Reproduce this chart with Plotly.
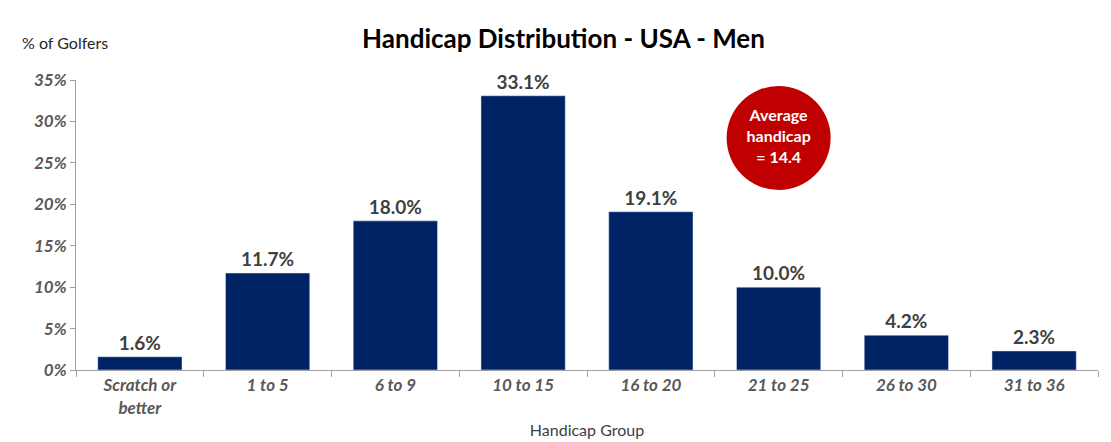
import plotly.graph_objects as go

categories = ["Scratch or<br>better", "1 to 5", "6 to 9", "10 to 15", "16 to 20", "21 to 25", "26 to 30", "31 to 36"]
values = [1.6, 11.7, 18.0, 33.1, 19.1, 10.0, 4.2, 2.3]
tick_vals = [0, 5, 10, 15, 20, 25, 30, 35]
tick_text = [f"{v}%" for v in tick_vals]
avg_label = "<b>Average<br>handicap<br>= 14.4</b>"

fig = go.Figure(go.Bar(
    x=categories, y=values, marker_color="#002366", width=0.66,
    text=[f"<b>{v:.1f}%</b>" for v in values], textposition="outside",
    textfont=dict(size=19, color="#404040", family="Lato"),
    cliponaxis=False,
))
fig.add_trace(go.Scatter(
    x=[categories[5]], y=[28.0], mode="markers+text", text=[avg_label],
    textposition="middle center", textfont=dict(size=16, color="white", family="Lato"),
    marker=dict(size=104, color="#c00000"), cliponaxis=False, hoverinfo="skip",
))
fig.update_layout(
    width=1111, height=442, plot_bgcolor="white", paper_bgcolor="white",
    margin=dict(l=68, r=21, t=77, b=76),
    title=dict(text="<b>Handicap Distribution - USA - Men</b>", x=0.5, xanchor="center",
               y=0.93, yanchor="middle", font=dict(size=26, color="black", family="Lato")),
    showlegend=False,
    font=dict(family="Lato"),
    xaxis=dict(showline=True, linecolor="#a0a0a0", ticks="outside", tickson="boundaries",
               tickcolor="#a0a0a0", ticklen=6,
               tickfont=dict(size=17, color="#595959", family="Lato", weight="bold", style="italic"),
               title=dict(text="Handicap Group", font=dict(size=16, color="#404040"), standoff=8)),
    yaxis=dict(range=[0, 35], tickvals=tick_vals, ticktext=tick_text, showgrid=False,
               showline=True, linecolor="#a0a0a0", ticks="outside", tickcolor="#a0a0a0", ticklen=5,
               tickfont=dict(size=17, color="#595959", family="Lato", weight="bold", style="italic")),
    annotations=[dict(text="% of Golfers", xref="paper", yref="paper", x=-0.055, y=1.17,
                      xanchor="left", showarrow=False, font=dict(size=16, color="#262626"))],
)
fig.update_layout(margin=dict(t=72, b=80))
fig.write_html("out.html")
